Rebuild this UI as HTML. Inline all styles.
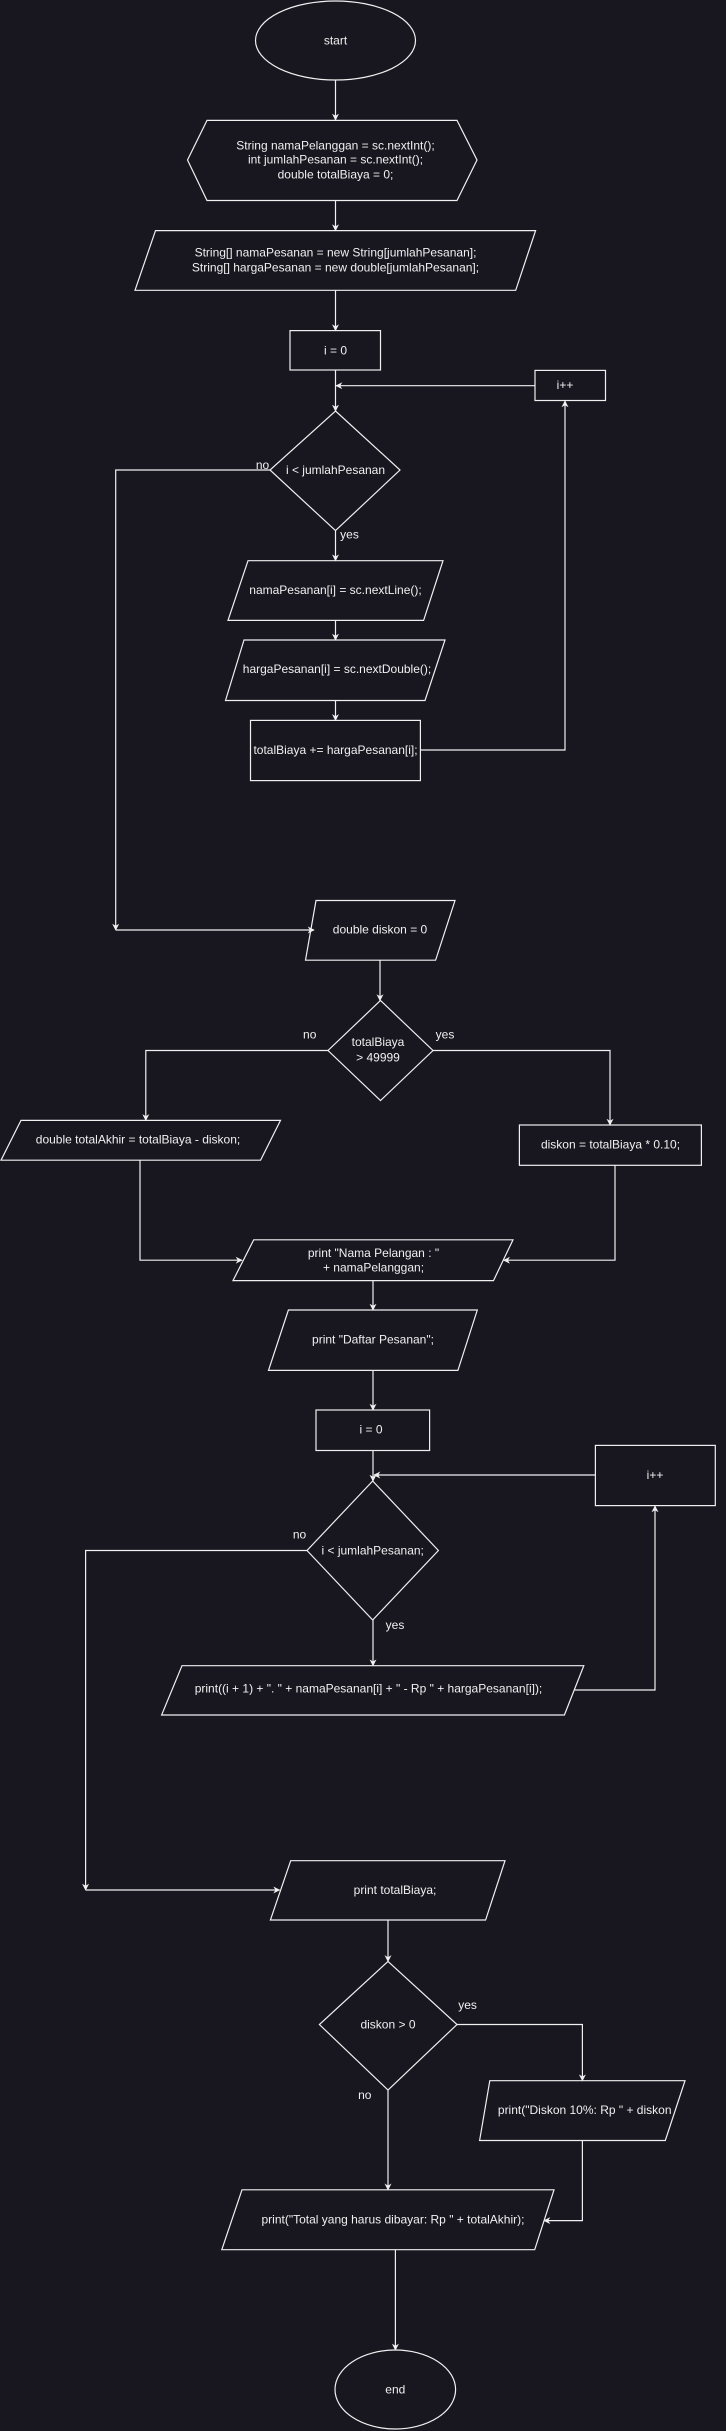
<!DOCTYPE html>
<html><head><meta charset="utf-8"><style>
html,body{margin:0;padding:0;background:#18161f;}
svg{display:block;}
text{font-family:"Liberation Sans",Arial,sans-serif;font-size:12px;fill:#f0f0f0;text-anchor:middle;dominant-baseline:central;}
.s{fill:none;stroke:#f0f0f0;stroke-width:1.2;}
.l{fill:none;stroke:#f0f0f0;stroke-width:1.2;marker-end:url(#a);}
</style></head><body>
<svg width="726" height="2431" viewBox="0 0 726 2431" xmlns="http://www.w3.org/2000/svg">
<defs><marker id="a" viewBox="0 0 10 10" refX="9" refY="5" markerWidth="7" markerHeight="7" markerUnits="userSpaceOnUse" orient="auto"><path d="M0,0 L10,5 L0,10 L3,5 Z" fill="#f0f0f0"/></marker></defs>
<rect width="726" height="2431" fill="#18161f"/>

<ellipse class="s" cx="335.5" cy="40.5" rx="80" ry="39.5"/>
<text x="335.5" y="40.5">start</text>
<line class="l" x1="335.5" y1="80" x2="335.5" y2="120"/>

<polygon class="s" points="207,120.4 457,120.4 477,160 457,200.5 207,200.5 187.5,160"/>
<text x="335.5" y="145.4">String namaPelanggan = sc.nextInt();</text>
<text x="335.5" y="159.7">int jumlahPesanan = sc.nextInt();</text>
<text x="335.5" y="174.5">double totalBiaya = 0;</text>
<line class="l" x1="335.5" y1="200.5" x2="335.5" y2="230.6"/>

<polygon class="s" points="155.5,230.6 535.6,230.6 515.7,290.3 135,290.3"/>
<text x="335.5" y="252.6">String[] namaPesanan = new String[jumlahPesanan];</text>
<text x="335.5" y="267.3">String[] hargaPesanan = new double[jumlahPesanan];</text>
<line class="l" x1="335.5" y1="290.3" x2="335.5" y2="330.6"/>

<rect class="s" x="290" y="330.6" width="90.5" height="39.4"/>
<text x="335.5" y="350.3">i = 0</text>
<line class="l" x1="335.5" y1="370" x2="335.5" y2="411"/>

<rect class="s" x="535" y="370.4" width="70.5" height="30.1"/>
<text x="565" y="385">i++</text>
<line class="l" x1="535" y1="385.7" x2="336" y2="385.7"/>

<polygon class="s" points="335.5,411 400,470 335.5,530.6 270,470"/>
<text x="335.5" y="470">i &lt; jumlahPesanan</text>
<text x="262.5" y="465">no</text>
<text x="349.5" y="534.7">yes</text>
<polyline class="l" points="270,470 115.7,470 115.7,930"/>
<polyline class="l" points="115.7,930 314,930"/>
<line class="l" x1="335.5" y1="530.6" x2="335.5" y2="560.7"/>

<polygon class="s" points="248,560.7 443,560.7 423.6,620.4 228,620.4"/>
<text x="335.5" y="590">namaPesanan[i] = sc.nextLine();</text>
<line class="l" x1="335.5" y1="620.4" x2="335.5" y2="640"/>

<polygon class="s" points="244,640 445,640 425,700.5 225.5,700.5"/>
<text x="337" y="669">hargaPesanan[i] = sc.nextDouble();</text>
<line class="l" x1="335.5" y1="700.5" x2="335.5" y2="720.4"/>

<rect class="s" x="250.5" y="720.4" width="169.9" height="60.2"/>
<text x="335.5" y="750">totalBiaya += hargaPesanan[i];</text>
<polyline class="l" points="420.4,750 565,750 565,401"/>

<polygon class="s" points="316,900.5 455,900.5 435.6,960.2 305.5,960.2"/>
<text x="380" y="929.6">double diskon = 0</text>
<line class="l" x1="380" y1="960.2" x2="380" y2="1000.5"/>

<polygon class="s" points="380.5,1000.5 433,1050.5 380.5,1100.5 328,1050.5"/>
<text x="378" y="1042">totalBiaya</text>
<text x="378" y="1057.7">&gt; 49999</text>
<text x="309.7" y="1034.7">no</text>
<text x="445" y="1034.7">yes</text>
<polyline class="l" points="328,1050.5 145.8,1050.5 145.8,1120.4"/>
<polyline class="l" points="433,1050.5 610,1050.5 610,1125"/>

<polygon class="s" points="21,1120.4 280.5,1120.4 260.6,1160.2 1,1160.2"/>
<text x="138" y="1139.3">double totalAkhir = totalBiaya - diskon;</text>
<rect class="s" x="519.4" y="1125" width="182" height="40.3"/>
<text x="610.5" y="1144.4">diskon = totalBiaya * 0.10;</text>
<polyline class="l" points="140,1160.2 140,1260.2 242,1260.2"/>
<polyline class="l" points="615,1165.3 615,1260.2 503.7,1260.2"/>

<polygon class="s" points="253.7,1239.8 513,1239.8 493.5,1280.6 233,1280.6"/>
<text x="373.5" y="1253">print "Nama Pelangan : "</text>
<text x="373.5" y="1267.3">+ namaPelanggan;</text>
<line class="l" x1="373" y1="1280.6" x2="373" y2="1310"/>

<polygon class="s" points="288.4,1310 477.3,1310 457.9,1370.4 268.5,1370.4"/>
<text x="373" y="1339.3">print "Daftar Pesanan";</text>
<line class="l" x1="373" y1="1370.4" x2="373" y2="1410"/>

<rect class="s" x="316" y="1410" width="113.6" height="40.5"/>
<text x="371" y="1429.6">i = 0</text>
<line class="l" x1="373" y1="1450.5" x2="373" y2="1481"/>

<rect class="s" x="595.4" y="1445.4" width="119.9" height="60.2"/>
<text x="655" y="1475">i++</text>
<line class="l" x1="595.4" y1="1475" x2="374" y2="1475"/>

<polygon class="s" points="372.7,1481 438.4,1550.5 372.7,1620 307,1550.5"/>
<text x="372.7" y="1550.5">i &lt; jumlahPesanan;</text>
<text x="299.5" y="1534.7">no</text>
<text x="395" y="1625">yes</text>
<line class="l" x1="373" y1="1620" x2="373" y2="1665.7"/>
<polyline class="l" points="307,1550.5 85.6,1550.5 85.6,1890"/>
<polyline class="l" points="85.6,1890 279.6,1890"/>

<polygon class="s" points="182,1665.7 583.8,1665.7 564.4,1715 161.6,1715"/>
<text x="368.5" y="1688.5">print((i + 1) + ". " + namaPesanan[i] + " - Rp " + hargaPesanan[i]);</text>
<polyline class="l" points="574,1690 655,1690 655,1506"/>

<polygon class="s" points="290.7,1860.7 505,1860.7 485.6,1920 270.4,1920"/>
<text x="395" y="1890">print totalBiaya;</text>
<line class="l" x1="388" y1="1920" x2="388" y2="1961.4"/>

<polygon class="s" points="388,1961.4 457,2024.5 388,2090 319.4,2024.5"/>
<text x="388" y="2024.5">diskon &gt; 0</text>
<text x="467.6" y="2005">yes</text>
<text x="364.8" y="2095">no</text>
<polyline class="l" points="457,2024.5 582.4,2024.5 582.4,2080.7"/>
<line class="l" x1="388" y1="2090" x2="388" y2="2189.8"/>

<polygon class="s" points="489.8,2080.7 685,2080.7 665.3,2140.5 479.6,2140.5"/>
<text x="584.7" y="2109.8">print("Diskon 10%: Rp " + diskon</text>
<polyline class="l" points="582.4,2140.5 582.4,2220.6 544,2220.6"/>

<polygon class="s" points="242,2189.8 554,2189.8 534.7,2249.7 221.8,2249.7"/>
<text x="393" y="2219.5">print("Total yang harus dibayar: Rp " + totalAkhir);</text>
<line class="l" x1="395.4" y1="2249.7" x2="395.4" y2="2350"/>

<ellipse class="s" cx="395.3" cy="2389.5" rx="60.3" ry="39.5"/>
<text x="395.3" y="2389.5">end</text>
</svg>
</body></html>
